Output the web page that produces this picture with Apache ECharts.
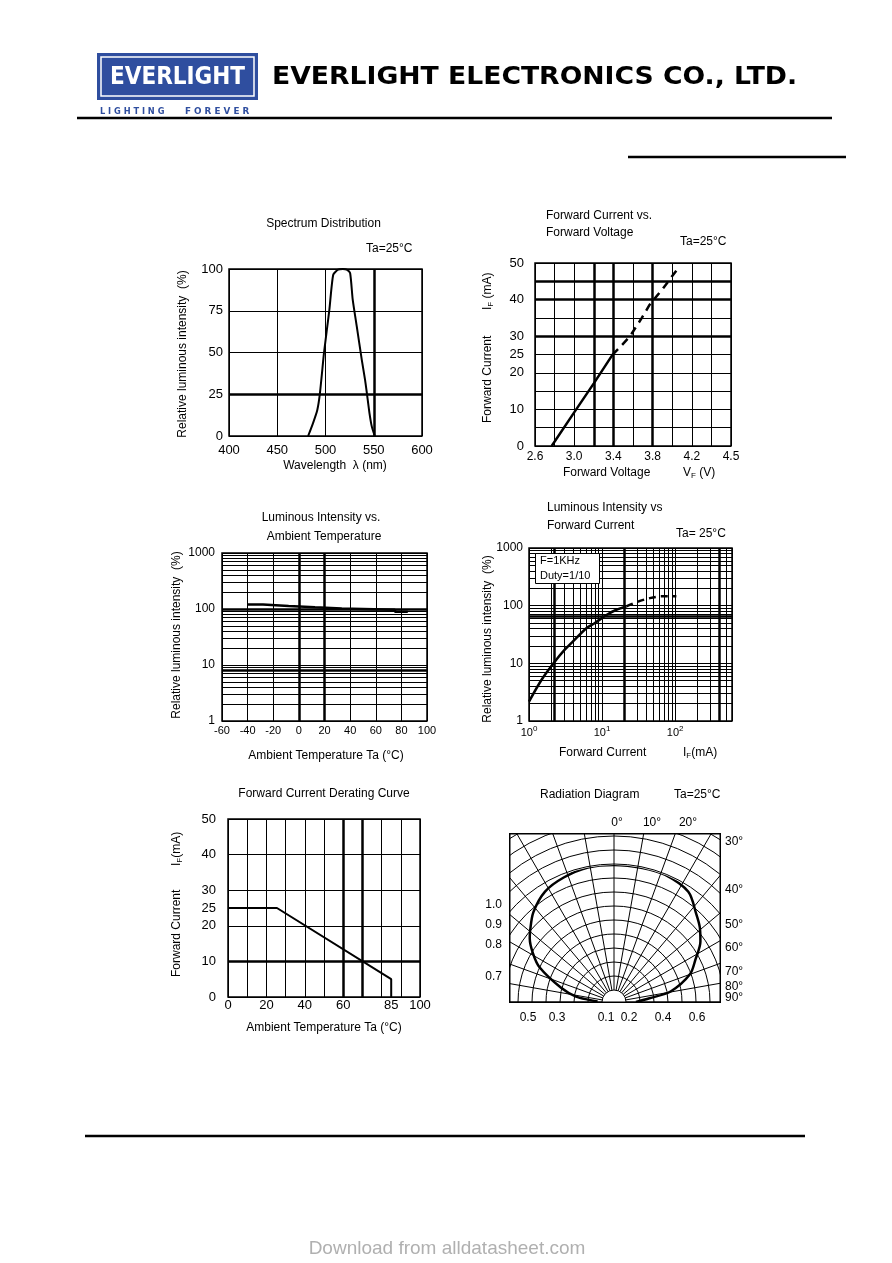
<!DOCTYPE html>
<html>
<head>
<meta charset="utf-8">
<title>EVERLIGHT - typical characteristics</title>
<script src="https://cdn.jsdelivr.net/npm/echarts@6.0.0/dist/echarts.min.js"></script>
<style>
  body { margin: 0; background: #fff; }
  #page { position: relative; width: 892px; height: 1263px; }
  #main { position: absolute; left: 0; top: 0; width: 892px; height: 1263px; }
  #radiation { position: absolute; left: 509px; top: 833px; width: 212px; height: 170px; }
</style>
</head>
<body>
<div id="page">
  <div id="main"></div>
  <div id="radiation"></div>
</div>
<script>
// ---- data ----

// Spectrum Distribution (wavelength nm -> relative intensity %)
var specWl  = [482, 487, 491.5, 494.3, 498.4, 501.2, 504, 508, 513, 518, 522, 525.5, 528.2, 532.4, 537.6, 541, 542.8, 545.6, 548, 551];
var specVal = [0, 7.6, 15.6, 26, 49.6, 62.6, 75.6, 96.6, 99.6, 100, 99.6, 97.6, 81.6, 65.6, 45.6, 33.6, 26, 13.6, 5.6, 0];

// Forward current vs forward voltage (solid part, dashed part)
var fvV  = [2.77, 3.0, 3.2, 3.39];
var fvI  = [0, 9.2, 17.1, 24.9];
var fvV2 = [3.39, 3.46, 3.57, 3.69, 3.77, 3.91, 4.05];
var fvI2 = [24.9, 26.8, 30, 35, 38.6, 43.2, 48.2];
var fvTickVals = [2.6, 3.0, 3.4, 3.8, 4.2, 4.6];
var fvTickText = ['2.6', '3.0', '3.4', '3.8', '4.2', '4.5'];
var currentTicks = [0, 10, 20, 25, 30, 40, 50];

// Luminous intensity vs ambient temperature (stepped trace)
var taT   = [-40, -28, -28, -8, -8, 12.6, 12.6, 33.5, 33.5, 75, 75, 85];
var taLum = [120, 120, 113, 113, 107, 107, 102, 102, 97, 97, 89, 89];

// Luminous intensity vs forward current (solid part, dashed part)
var ifI    = [1, 1.48, 2.25, 2.92, 4.0, 6.1, 7.9, 11.5, 15.7, 21.5];
var ifLum  = [2.17, 5.15, 10.7, 16, 24, 40.7, 49.7, 69, 85, 97];
var ifI2   = [21.5, 29.5, 45, 65, 104];
var ifLum2 = [97, 115, 135, 145, 145];

// Forward current derating curve
var drT = [0, 25.5, 85, 85];
var drI = [25, 25, 5, 0];
var drTicks = [0, 20, 40, 60, 85, 100];

// log grid minor lines
var logMinor = [2, 3, 4, 5, 6, 7, 8, 9, 20, 30, 40, 50, 60, 70, 80, 90, 200, 300, 400, 500, 600, 700, 800, 900];
var logMinorX = [2, 3, 4, 5, 6, 7, 8, 9, 20, 30, 40, 50, 60, 70, 80, 90, 200, 300, 400, 500];

// Radiation diagram (angle deg -> relative intensity)
var radAngle = [-88, -85, -82, -75, -65, -59, -53, -50, -42, -32, -22, -11, 0, 12, 22, 34, 43, 49, 55, 62.5, 70, 79.5, 84, 90];
var radVal   = [0.12, 0.18, 0.28, 0.40, 0.60, 0.69, 0.77, 0.80, 0.88, 0.95, 0.98, 1.0, 1.0, 1.0, 1.0, 0.97, 0.88, 0.83, 0.77, 0.67, 0.59, 0.42, 0.26, 0.16];
var radTopLabels    = ['0°', '10°', '20°'];
var radRightLabels  = ['30°', '40°', '50°', '60°', '70°', '80°', '90°'];
var radLeftLabels   = ['1.0', '0.9', '0.8', '0.7'];
var radBottomLabels = ['0.5', '0.3', '0.1', '0.2', '0.4', '0.6'];

// ---- helpers ----
var black = '#000';
var FONT = '"Liberation Sans", Arial, sans-serif';

function pairs(xs, ys) {
  return xs.map(function (x, i) { return [x, ys[i]]; });
}

function axis(gridIndex, type, min, max, interval, label) {
  var a = {
    gridIndex: gridIndex, type: type, min: min, max: max,
    axisLine: { show: false },
    axisTick: { show: false },
    splitLine: { show: true, lineStyle: { color: black, width: 1 } },
    axisLabel: Object.assign({ color: black, fontSize: 12, fontFamily: FONT, margin: 6 }, label || {})
  };
  if (interval) a.interval = interval;
  if (type === 'log') a.logBase = 10;
  return a;
}

// plain numbers on log axes (no thousands separator)
function plain(v) { return String(Math.round(v)); }

// extra grid lines (log minors and the heavier lines of the original)
function gridLines(thinX, thinY, thickX, thickY) {
  var d = [];
  thinX.forEach(function (v) { d.push({ xAxis: v }); });
  thinY.forEach(function (v) { d.push({ yAxis: v }); });
  thickX.forEach(function (v) { d.push({ xAxis: v, lineStyle: { width: 2.5 } }); });
  thickY.forEach(function (v) { d.push({ yAxis: v, lineStyle: { width: 2.5 } }); });
  return {
    silent: true, symbol: ['none', 'none'], animation: false,
    label: { show: false }, emphasis: { disabled: true },
    lineStyle: { color: black, width: 1, type: 'solid', opacity: 1 },
    data: d
  };
}

function txt(x, y, text, o) {
  o = o || {};
  var size = o.size || 12;
  var st = {
    text: text, fill: o.color || black,
    font: (o.weight || 'normal') + ' ' + size + 'px ' + (o.family || FONT),
    textAlign: o.align || 'left', align: o.align || 'left',
    textVerticalAlign: 'middle', verticalAlign: 'middle'
  };
  if (o.rich) st.rich = o.rich;
  var el = { type: 'text', x: x, y: y, z: 100, style: st };
  if (o.rot) el.rotation = o.rot;
  if (o.scaleX) el.scaleX = o.scaleX;
  return el;
}

function line(x1, y1, x2, y2, w) {
  return { type: 'line', z: 100, shape: { x1: x1, y1: y1, x2: x2, y2: y2 }, style: { stroke: black, lineWidth: w } };
}

// subscript text like I_F
var subRich = {
  n: { fontSize: 12, fontFamily: FONT, fill: black },
  s: { fontSize: 8, fontFamily: FONT, fill: black, padding: [6, 0, 0, 0] }
};
var UP = Math.PI / 2; // rotate text to read bottom-to-top
var logoBlue = '#2f4e9f';

// ---- main page chart ----
var gridBase = { show: true, borderColor: black, borderWidth: 1.5, backgroundColor: 'transparent', outerBoundsMode: 'none' };
var grids = [
  { left: 229, top: 269, width: 193, height: 167 },
  { left: 535, top: 263, width: 196, height: 183 },
  { left: 222, top: 553, width: 205, height: 168 },
  { left: 529, top: 548, width: 203, height: 173 },
  { left: 228, top: 819, width: 192, height: 178 }
].map(function (g) { return Object.assign({}, gridBase, g); });

var lineBase = { type: 'line', symbol: 'none', silent: true, lineStyle: { color: black, width: 2 } };

var option = {
  animation: false,
  backgroundColor: '#fff',
  textStyle: { fontFamily: FONT },
  grid: grids,
  xAxis: [
    axis(0, 'value', 400, 600, 50, { fontSize: 13, margin: 8 }),
    axis(1, 'value', 2.6, 4.6, 0.2, {
      margin: 5, customValues: fvTickVals,
      formatter: function (v) {
        for (var i = 0; i < fvTickVals.length; i++) {
          if (Math.abs(fvTickVals[i] - v) < 1e-6) return fvTickText[i];
        }
        return '';
      }
    }),
    axis(2, 'value', -60, 100, 20, { fontSize: 11, margin: 4 }),
    axis(3, 'log', 1, 600, null, {
      margin: 4,
      formatter: function (v) {
        var p = Math.round(Math.log(v) / Math.LN10);
        if (p > 2 || Math.abs(Math.pow(10, p) - v) > 1e-6) return '';
        return '{b|10}{s|' + p + '}';
      },
      rich: {
        b: { fontSize: 11, color: black, fontFamily: FONT },
        s: { fontSize: 8, color: black, fontFamily: FONT, padding: [0, 0, 7, 0] }
      }
    }),
    axis(4, 'value', 0, 100, 10, { fontSize: 13, margin: 2, customValues: drTicks })
  ],
  yAxis: [
    axis(0, 'value', 0, 100, 25, { fontSize: 13, margin: 6 }),
    axis(1, 'value', 0, 50, 5, { fontSize: 13, margin: 11, customValues: currentTicks }),
    axis(2, 'log', 1, 1000, null, { margin: 7, formatter: plain }),
    axis(3, 'log', 1, 1000, null, { margin: 6, formatter: plain }),
    axis(4, 'value', 0, 50, 10, { fontSize: 13, margin: 12, customValues: currentTicks })
  ],
  series: [
    Object.assign({}, lineBase, {
      xAxisIndex: 0, yAxisIndex: 0, smooth: 0.2, data: pairs(specWl, specVal),
      markLine: gridLines([], [], [550], [25])
    }),
    Object.assign({}, lineBase, {
      xAxisIndex: 1, yAxisIndex: 1, lineStyle: { color: black, width: 2.5 }, data: pairs(fvV, fvI),
      markLine: gridLines([], [], [3.2, 3.4, 3.8], [30, 40, 45])
    }),
    Object.assign({}, lineBase, {
      xAxisIndex: 1, yAxisIndex: 1, data: pairs(fvV2, fvI2),
      lineStyle: { color: black, width: 2.5, type: [8, 6] }
    }),
    Object.assign({}, lineBase, {
      xAxisIndex: 2, yAxisIndex: 2, lineStyle: { color: black, width: 2.5 }, data: pairs(taT, taLum),
      markLine: gridLines([], logMinor, [0, 20], [8, 100])
    }),
    Object.assign({}, lineBase, {
      xAxisIndex: 3, yAxisIndex: 3, smooth: 0.3, lineStyle: { color: black, width: 2.5 }, data: pairs(ifI, ifLum),
      markLine: gridLines(logMinorX, logMinor, [2.2, 20, 400], [65])
    }),
    Object.assign({}, lineBase, {
      xAxisIndex: 3, yAxisIndex: 3, smooth: 0.3, data: pairs(ifI2, ifLum2),
      lineStyle: { color: black, width: 2.5, type: [7, 5] }
    }),
    Object.assign({}, lineBase, {
      xAxisIndex: 4, yAxisIndex: 4, data: pairs(drT, drI),
      markLine: gridLines([], [], [60, 70], [10])
    })
  ],
  graphic: {
    elements: [
      // header
      { type: 'rect', z: 100, shape: { x: 97, y: 53, width: 161, height: 47 }, style: { fill: logoBlue } },
      { type: 'rect', z: 101, shape: { x: 101, y: 57, width: 153, height: 39 }, style: { fill: 'none', stroke: '#fff', lineWidth: 1.5 } },
      txt(177.5, 78, 'EVERLIGHT', { size: 24, weight: 'bold', color: '#fff', align: 'center', family: '"DejaVu Sans Condensed", "DejaVu Sans", sans-serif' }),
      txt(100, 112, 'L I G H T I N G', { size: 8, weight: 'bold', color: logoBlue, family: '"DejaVu Sans", sans-serif', scaleX: 1.03 }),
      txt(185, 112, 'F O R E V E R', { size: 8, weight: 'bold', color: logoBlue, family: '"DejaVu Sans", sans-serif', scaleX: 1.1 }),
      txt(272, 78, 'EVERLIGHT ELECTRONICS CO., LTD.', { size: 24, weight: 'bold', family: '"DejaVu Sans", sans-serif', scaleX: 1.11 }),
      line(77, 118, 832, 118, 2.5),
      line(628, 157, 846, 157, 2.5),

      // spectrum
      txt(323.5, 224, 'Spectrum Distribution', { align: 'center' }),
      txt(366, 249, 'Ta=25°C'),
      txt(183, 354, 'Relative luminous intensity  (%)', { align: 'center', rot: UP }),
      txt(335, 466, 'Wavelength  λ (nm)', { align: 'center' }),

      // forward voltage
      txt(546, 216, 'Forward Current vs.'),
      txt(546, 233, 'Forward Voltage'),
      txt(680, 242, 'Ta=25°C'),
      txt(488, 423, 'Forward Current', { rot: UP }),
      txt(488, 310, '{n|I}{s|F}{n| (mA)}', { rot: UP, rich: subRich }),
      txt(563, 473, 'Forward Voltage'),
      txt(683, 473, '{n|V}{s|F}{n| (V)}', { rich: subRich }),

      // temperature
      txt(321, 518, 'Luminous Intensity vs.', { align: 'center' }),
      txt(324, 537, 'Ambient Temperature', { align: 'center' }),
      txt(177, 635, 'Relative luminous intensity  (%)', { align: 'center', rot: UP }),
      txt(326, 756, 'Ambient Temperature Ta (°C)', { align: 'center' }),

      // forward current
      txt(547, 508, 'Luminous Intensity vs'),
      txt(547, 526, 'Forward Current'),
      txt(676, 534, 'Ta= 25°C'),
      txt(488, 639, 'Relative luminous intensity  (%)', { align: 'center', rot: UP }),
      txt(559, 753, 'Forward Current'),
      txt(683, 753, '{n|I}{s|F}{n|(mA)}', { rich: subRich }),
      { type: 'rect', z: 100, shape: { x: 535.5, y: 553.5, width: 64, height: 30 }, style: { fill: '#fff', stroke: black, lineWidth: 1 } },
      txt(540, 561, 'F=1KHz', { size: 11 }),
      txt(540, 576, 'Duty=1/10', { size: 11 }),

      // derating
      txt(324, 794, 'Forward Current Derating Curve', { align: 'center' }),
      txt(177, 977, 'Forward Current', { rot: UP }),
      txt(177, 866, '{n|I}{s|F}{n|(mA)}', { rot: UP, rich: subRich }),
      txt(324, 1028, 'Ambient Temperature Ta (°C)', { align: 'center' }),

      // radiation diagram labels
      txt(540, 795, 'Radiation Diagram'),
      txt(674, 795, 'Ta=25°C'),
      txt(617, 823, radTopLabels[0], { align: 'center' }),
      txt(652, 823, radTopLabels[1], { align: 'center' }),
      txt(688, 823, radTopLabels[2], { align: 'center' }),
      txt(725, 842, radRightLabels[0]),
      txt(725, 890, radRightLabels[1]),
      txt(725, 925, radRightLabels[2]),
      txt(725, 948, radRightLabels[3]),
      txt(725, 972, radRightLabels[4]),
      txt(725, 987, radRightLabels[5]),
      txt(725, 998, radRightLabels[6]),
      txt(502, 905, radLeftLabels[0], { align: 'right' }),
      txt(502, 925, radLeftLabels[1], { align: 'right' }),
      txt(502, 945, radLeftLabels[2], { align: 'right' }),
      txt(502, 977, radLeftLabels[3], { align: 'right' }),
      txt(528, 1018, radBottomLabels[0], { align: 'center' }),
      txt(557, 1018, radBottomLabels[1], { align: 'center' }),
      txt(606, 1018, radBottomLabels[2], { align: 'center' }),
      txt(629, 1018, radBottomLabels[3], { align: 'center' }),
      txt(663, 1018, radBottomLabels[4], { align: 'center' }),
      txt(697, 1018, radBottomLabels[5], { align: 'center' }),

      // footer
      line(85, 1136, 805, 1136, 2.5),
      txt(447, 1249, 'Download from alldatasheet.com', { size: 19, color: '#b0b0b0', align: 'center' })
    ]
  }
};

var main = echarts.init(document.getElementById('main'));
main.setOption(option);

// ---- radiation diagram: polar grid clipped by its own small canvas ----
var rad = echarts.init(document.getElementById('radiation'));
rad.setOption({
  animation: false,
  backgroundColor: '#fff',
  polar: [
    { center: [105, 169], radius: [12, 208] },
    { center: [105, 169], radius: [0, 137] }
  ],
  angleAxis: [
    {
      polarIndex: 0, type: 'value', min: -180, max: 180, interval: 10, startAngle: 270, clockwise: true,
      axisLine: { show: false }, axisTick: { show: false }, axisLabel: { show: false },
      splitLine: { show: true, lineStyle: { color: black, width: 1 } }
    },
    { polarIndex: 1, type: 'value', min: -180, max: 180, startAngle: 270, clockwise: true, show: false }
  ],
  radiusAxis: [
    {
      polarIndex: 0, type: 'value', min: 0, max: 14, interval: 1,
      axisLine: { show: false }, axisTick: { show: false }, axisLabel: { show: false },
      splitLine: { show: true, lineStyle: { color: black, width: 1 } }
    },
    { polarIndex: 1, type: 'value', min: 0, max: 1, show: false }
  ],
  series: [{
    type: 'line', coordinateSystem: 'polar', polarIndex: 1, symbol: 'none', silent: true, smooth: 0.3,
    lineStyle: { color: black, width: 2.5 },
    data: pairs(radVal, radAngle)
  }],
  graphic: [{
    type: 'rect', z: 100, shape: { x: 0.75, y: 0.75, width: 210.5, height: 168.5 },
    style: { fill: 'none', stroke: black, lineWidth: 1.5 }
  }]
});
</script>
</body>
</html>
